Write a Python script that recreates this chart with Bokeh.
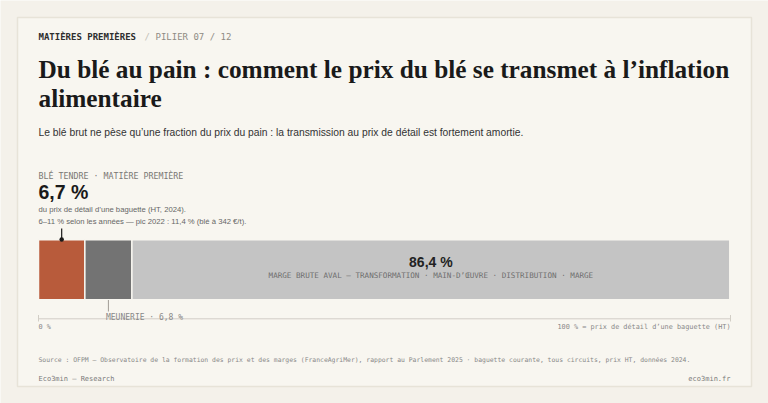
from bokeh.plotting import figure
from bokeh.models import Range1d
from bokeh.core.properties import value
from bokeh.embed import file_html
from bokeh.resources import INLINE

# ---- data ----
segments = ["Blé tendre", "Meunerie", "Marge brute aval"]
shares = [6.7, 6.8, 86.4]
share_labels = ["6,7 %", "6,8 %", "86,4 %"]
seg_colors = ["#b85b3b", "#737373", "#c4c4c4"]
axis_ticks = [0, 100]
axis_tick_labels = ["0 %", "100 % = prix de détail d\u2019une baguette (HT)"]

W, H = 768, 403
BG = "#f4f1ea"
CARD = "#f8f6f0"
MONO = value("DejaVu Sans Mono")
SANS = value("Liberation Sans")
SERIF = value("Liberation Serif")

# bar spans x 38 -> 730
bx0, bx1 = 38.0, 730.0
scale = (bx1 - bx0) / 100.0
x_start = -bx0 / scale
x_end = (W - bx0) / scale

p = figure(width=W, height=H, output_backend="svg", toolbar_location=None,
           x_range=Range1d(x_start, x_end), y_range=Range1d(H, 0),
           min_border=0, x_axis_location=None, y_axis_location=None)
p.extra_x_ranges = {"px": Range1d(0, W)}
p.grid.visible = False
p.outline_line_color = None
p.background_fill_color = BG
p.border_fill_color = BG

# card
p.quad(left=17, right=751, top=17, bottom=386, x_range_name="px",
       fill_color=CARD, line_color="#e7e3d8", line_width=1.5)

def txt(x, y, t, size, color, font=SANS, style="normal", align="left",
        baseline="middle", rng="px"):
    p.text(x=[x], y=[y], text=[t], text_font=font, text_font_size=f"{size}px",
           text_color=color, text_font_style=style, text_align=align,
           text_baseline=baseline, x_range_name=rng)

# header
txt(38, 36, "MATIÈRES PREMIÈRES", 9, "#2e2e2e", font=MONO, style="bold")
txt(144, 36, "/", 9, "#c2beb5", font=MONO)
txt(155, 36, "PILIER 07 / 12", 9, "#8f8b84", font=MONO)

# title
txt(38, 68, "Du blé au pain : comment le prix du blé se transmet à l\u2019inflation",
    25.3, "#1a1a1a", font=SERIF, style="bold", baseline="alphabetic")
txt(38, 97, "alimentaire", 25.3, "#1a1a1a", font=SERIF, style="bold",
    baseline="alphabetic")

# subtitle
txt(38, 132, "Le blé brut ne pèse qu\u2019une fraction du prix du pain : la transmission au prix de détail est fortement amortie.",
    10.3, "#333333")

# bar segments
lefts, rights = [], []
acc = 0.0
for s in shares:
    lefts.append(acc)
    acc += s
    rights.append(acc)
mids = [(l + r) / 2 for l, r in zip(lefts, rights)]

p.hbar(y=[269.3] * 3, left=lefts, right=rights, height=60,
       fill_color=seg_colors, line_color=CARD, line_width=1.5)

# blé annotation block
txt(38, 175, "BLÉ TENDRE · MATIÈRE PREMIÈRE", 8.3, "#7a7874", font=MONO)
txt(38, 191, share_labels[0], 19.5, "#1a1a1a", style="bold")
txt(38, 209, "du prix de détail d\u2019une baguette (HT, 2024).", 7.7, "#666666")
txt(38, 221, "6\u201311 % selon les années \u2014 pic 2022 : 11,4 % (blé à 342 €/t).", 7.7, "#666666")
p.segment(x0=[mids[0]], x1=[mids[0]], y0=[228], y1=[239], line_color="#1a1a1a", line_width=1.2)
p.scatter(x=[mids[0]], y=[239], size=4.5, fill_color="#1a1a1a", line_color=None)

# meunerie leader
p.segment(x0=[mids[1]], x1=[mids[1]], y0=[299.5], y1=[311], line_color="#a09c95", line_width=1)

# axis
p.segment(x0=[axis_ticks[0]], x1=[axis_ticks[1]], y0=[318.3], y1=[318.3], line_color="#d2cec6", line_width=1)
p.segment(x0=axis_ticks, x1=axis_ticks, y0=[314.5, 314.5], y1=[321, 321], line_color="#d2cec6", line_width=1)
p.text(x=[axis_ticks[0]], y=[326.3], text=[axis_tick_labels[0]], text_font=MONO,
       text_font_size="6.9px", text_color="#888888", text_align="left", text_baseline="middle")
p.text(x=[axis_ticks[1]], y=[326.3], text=[axis_tick_labels[1]], text_font=MONO,
       text_font_size="6.85px", text_color="#888888", text_align="right", text_baseline="middle")

p.text(x=[mids[1]], y=[316.7], text=["MEUNERIE · " + share_labels[1]], text_font=MONO,
       text_font_size="8px", text_color="#888888", text_align="left",
       text_baseline="middle", x_offset=-2.4)

# marge labels
p.text(x=[mids[2]], y=[261.7], text=[share_labels[2]], text_font=SANS,
       text_font_size="14px", text_font_style="bold", text_color="#222222",
       text_align="center", text_baseline="middle")
p.text(x=[mids[2]], y=[275], text=["MARGE BRUTE AVAL \u2014 TRANSFORMATION · MAIN-D\u2019ŒUVRE · DISTRIBUTION · MARGE"],
       text_font=MONO, text_font_size="7.6px", text_color="#6e6e6e",
       text_align="center", text_baseline="middle")

# source + footer
txt(38, 359, "Source : OFPM \u2014 Observatoire de la formation des prix et des marges (FranceAgriMer), rapport au Parlement 2025 · baguette courante, tous circuits, prix HT, données 2024.",
    6.42, "#888888", font=MONO)
txt(38, 378, "Eco3min \u2014 Research", 7, "#7a7a7a", font=MONO)
txt(730, 378, "eco3min.fr", 7, "#7a7a7a", font=MONO, align="right")

html = file_html(p, INLINE)
html = html.replace("<body>", '<body style="background:%s">' % BG, 1)
open("out.html", "w").write(html)
